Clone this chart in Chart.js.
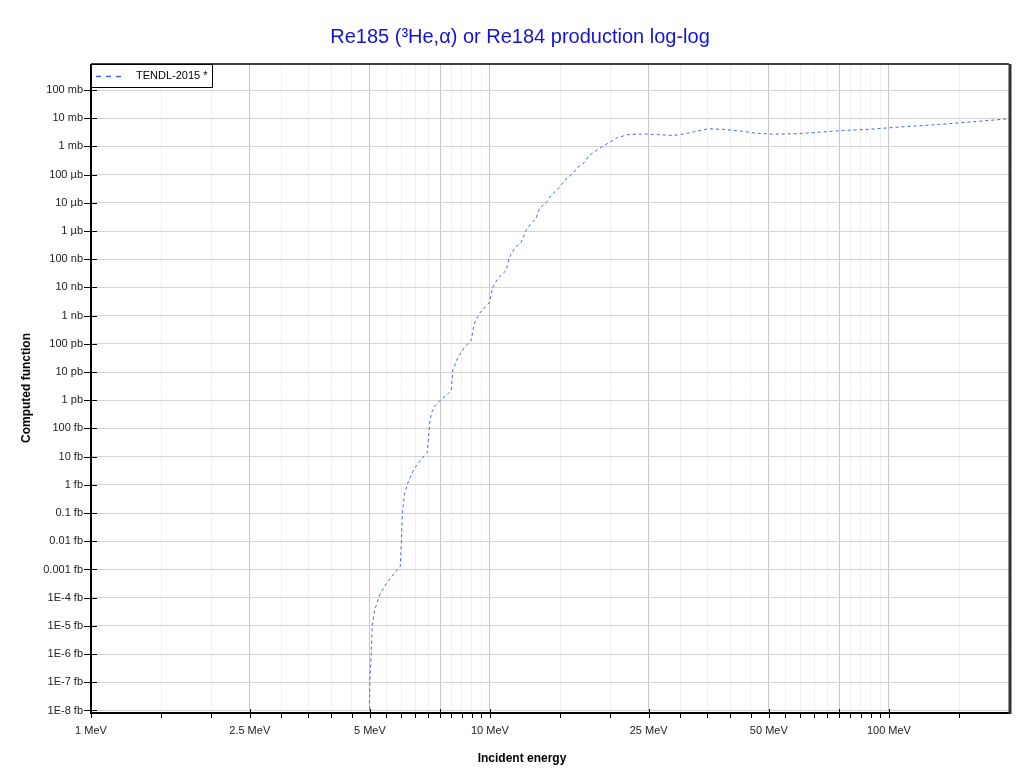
<!DOCTYPE html>
<html>
<head>
<meta charset="utf-8">
<script src="https://cdn.jsdelivr.net/npm/chart.js@4.4.0/dist/chart.umd.min.js"></script>
<style>
  html, body { margin: 0; padding: 0; background: #fff; }
  canvas { display: block; }
</style>
</head>
<body>
<canvas id="chart" width="1020" height="774"></canvas>
<script>
// Incident energy (MeV) and cross section (mb)
const energies = [1, 4.99, 5.0, 5.04, 5.07, 5.14, 5.29, 5.50, 5.71, 5.96,
  6.0, 6.03, 6.11, 6.26, 6.47, 6.73, 6.96, 7.02, 7.06, 7.13, 7.30, 7.51, 7.77, 8.0,
  8.07, 8.31, 8.63, 8.97, 9.14, 9.41, 9.97, 10.16, 10.46, 10.98, 11.19, 11.52, 11.97,
  12.32, 12.68, 13.05, 13.30, 13.82, 14.23, 14.93, 15.37, 16.12, 16.59, 17.24, 17.74,
  18.79, 19.91, 20.9, 22.3, 24.6, 28.9, 31.3, 35.2, 38.8, 42.8, 46.3, 51.0, 58.5,
  67.1, 77.1, 90.1, 105.3, 133.3, 162.1, 200]
const crossSection = [0, 0, 1.19e-19, 1.07e-18, 1.05e-17, 3.6e-17, 1.23e-16, 3.2e-16, 6.3e-16, 1.30e-15,
  1.10e-14, 9.8e-14, 5.0e-13, 1.45e-12, 3.9e-12, 8.1e-12, 1.41e-11, 4.9e-11, 1.51e-10, 3.5e-10, 6.6e-10, 1.0e-9, 1.48e-9, 2.24e-9,
  1.15e-8, 3.3e-8, 7.5e-8, 1.33e-7, 5.3e-7, 1.20e-6, 2.95e-6, 1.0e-5, 2.09e-5, 4.0e-5, 1.16e-4, 2.42e-4, 4.0e-4,
  1.05e-3, 1.86e-3, 2.8e-3, 6.3e-3, 1.02e-2, 1.82e-2, 3.5e-2, 6.2e-2, 0.110, 0.179, 0.27, 0.478,
  0.845, 1.38, 2.07, 2.65, 2.75, 2.44, 2.94, 4.22, 3.98, 3.47, 2.94, 2.72, 2.81,
  3.20, 3.67, 4.08, 4.81, 6.0, 7.46, 9.55]

const yTickValues = [1e2, 1e1, 1, 1e-1, 1e-2, 1e-3, 1e-4, 1e-5, 1e-6, 1e-7, 1e-8, 1e-9,
  1e-10, 1e-11, 1e-12, 1e-13, 1e-14, 1e-15, 1e-16, 1e-17, 1e-18, 1e-19, 1e-20]
const yTickLabels = ["100 mb", "10 mb", "1 mb", "100 µb", "10 µb", "1 µb", "100 nb", "10 nb", "1 nb",
  "100 pb", "10 pb", "1 pb", "100 fb", "10 fb", "1 fb", "0.1 fb", "0.01 fb", "0.001 fb",
  "1E-4 fb", "1E-5 fb", "1E-6 fb", "1E-7 fb", "1E-8 fb"]

const xTickValues = [1, 1.5, 2, 2.5, 3, 3.5, 4, 4.5, 5, 5.5, 6, 6.5, 7, 7.5, 8, 8.5, 9, 9.5,
  10, 15, 20, 25, 30, 35, 40, 45, 50, 55, 60, 65, 70, 75, 80, 85, 90, 95, 100, 150, 200]
const xMajorValues = [1, 2.5, 5, 7.5, 10, 25, 50, 75, 100]
const xLabelValues = [1, 2.5, 5, 10, 25, 50, 100]
const xLabelTexts = ["1 MeV", "2.5 MeV", "5 MeV", "10 MeV", "25 MeV", "50 MeV", "100 MeV"]

const X_MIN = 1, X_MAX = 200
const Y_MIN = 8.15e-21, Y_MAX = 836
const FONT = "'Liberation Sans', Arial, sans-serif"

// zero cross section sits on the bottom of the log axis
const points = energies.map((e, i) => ({ x: e, y: crossSection[i] > 0 ? crossSection[i] : Y_MIN }))

const isMajor = v => xMajorValues.some(m => Math.abs(m - v) < 1e-9)

const framePlugin = {
  id: "frame",
  beforeDraw(chart) {
    const ctx = chart.ctx
    ctx.save()
    ctx.fillStyle = "#fff"
    ctx.fillRect(0, 0, chart.width, chart.height)
    ctx.restore()
  },
  afterDraw(chart) {
    const ctx = chart.ctx
    const a = chart.chartArea
    const xs = chart.scales.x, ys = chart.scales.y
    ctx.save()

    // tick marks
    ctx.strokeStyle = "#000"
    ctx.lineWidth = 1
    yTickValues.forEach(v => {
      const py = Math.round(ys.getPixelForValue(v)) + 0.5
      ctx.beginPath(); ctx.moveTo(a.left - 7, py); ctx.lineTo(a.left + 6, py); ctx.stroke()
    })
    xTickValues.forEach(v => {
      if (v >= X_MAX) return
      const px = Math.round(xs.getPixelForValue(v)) + 0.5
      ctx.beginPath()
      ctx.moveTo(px, isMajor(v) ? a.bottom - 4 : a.bottom)
      ctx.lineTo(px, a.bottom + 5)
      ctx.stroke()
    })

    // plot frame
    ctx.strokeStyle = "#000"
    ctx.lineWidth = 1.5
    ctx.beginPath(); ctx.moveTo(a.left, a.top); ctx.lineTo(a.right, a.top); ctx.stroke()
    ctx.lineWidth = 2
    ctx.beginPath(); ctx.moveTo(a.left, a.top); ctx.lineTo(a.left, a.bottom); ctx.lineTo(a.right, a.bottom); ctx.stroke()
    ctx.strokeStyle = "#333"
    ctx.lineWidth = 3
    ctx.beginPath(); ctx.moveTo(a.right + 1, a.top); ctx.lineTo(a.right + 1, a.bottom + 1); ctx.stroke()

    // legend box
    ctx.fillStyle = "#fff"
    ctx.fillRect(a.left, a.top, 121, 23)
    ctx.strokeStyle = "#000"
    ctx.lineWidth = 1
    ctx.strokeRect(a.left + 0.5, a.top + 0.5, 121, 23)
    ctx.strokeStyle = "#4169e1"
    ctx.lineWidth = 1.5
    ctx.setLineDash([5, 5])
    ctx.beginPath(); ctx.moveTo(a.left + 5, a.top + 12.5); ctx.lineTo(a.left + 32, a.top + 12.5); ctx.stroke()
    ctx.setLineDash([])
    ctx.fillStyle = "#000"
    ctx.font = "11px " + FONT
    ctx.textBaseline = "middle"
    ctx.textAlign = "left"
    ctx.fillText("TENDL-2015 *", a.left + 45, a.top + 12)

    // titles
    ctx.fillStyle = "#1414d2"
    ctx.font = "20px " + FONT
    ctx.textAlign = "center"
    ctx.textBaseline = "alphabetic"
    ctx.fillText("Re185 (³He,α) or Re184 production log-log", 520, 43)

    ctx.fillStyle = "#000"
    ctx.font = "bold 12px " + FONT
    ctx.fillText("Incident energy", 522, 762)

    ctx.translate(30, 388)
    ctx.rotate(-Math.PI / 2)
    ctx.fillText("Computed function", 0, 0)
    ctx.restore()
  }
}

new Chart(document.getElementById("chart"), {
  type: "line",
  data: {
    datasets: [{
      label: "TENDL-2015 *",
      data: points,
      borderColor: "#4169e1",
      borderWidth: 1,
      borderDash: [3, 3],
      pointRadius: 0,
      tension: 0,
      fill: false
    }]
  },
  options: {
    responsive: false,
    animation: false,
    devicePixelRatio: 1,
    layout: { padding: { top: 64, right: 10, left: 0, bottom: 0 } },
    plugins: {
      legend: { display: false },
      title: { display: false },
      tooltip: { enabled: false }
    },
    scales: {
      x: {
        type: "logarithmic",
        min: X_MIN,
        max: X_MAX,
        afterBuildTicks: scale => { scale.ticks = xTickValues.map(v => ({ value: v })) },
        afterFit: scale => { scale.height = 61 },
        border: { display: false },
        grid: {
          drawTicks: false,
          lineWidth: 1,
          color: c => isMajor(c.tick.value) ? "#c8c8c8" : "#f0f0f0"
        },
        ticks: {
          autoSkip: false,
          maxRotation: 0,
          padding: 11,
          color: "#222",
          font: { family: FONT, size: 11 },
          callback: value => {
            const i = xLabelValues.findIndex(v => Math.abs(v - value) < 1e-9)
            return i >= 0 ? xLabelTexts[i] : ""
          }
        }
      },
      y: {
        type: "logarithmic",
        min: Y_MIN,
        max: Y_MAX,
        afterBuildTicks: scale => { scale.ticks = yTickValues.map(v => ({ value: v })) },
        afterFit: scale => { scale.width = 91 },
        border: { display: false },
        grid: {
          drawTicks: false,
          lineWidth: 1,
          color: "#d4d4d4"
        },
        ticks: {
          autoSkip: false,
          padding: 8,
          color: "#222",
          font: { family: FONT, size: 11 },
          callback: (value, index) => yTickLabels[index]
        }
      }
    }
  },
  plugins: [framePlugin]
})
</script>
</body>
</html>
